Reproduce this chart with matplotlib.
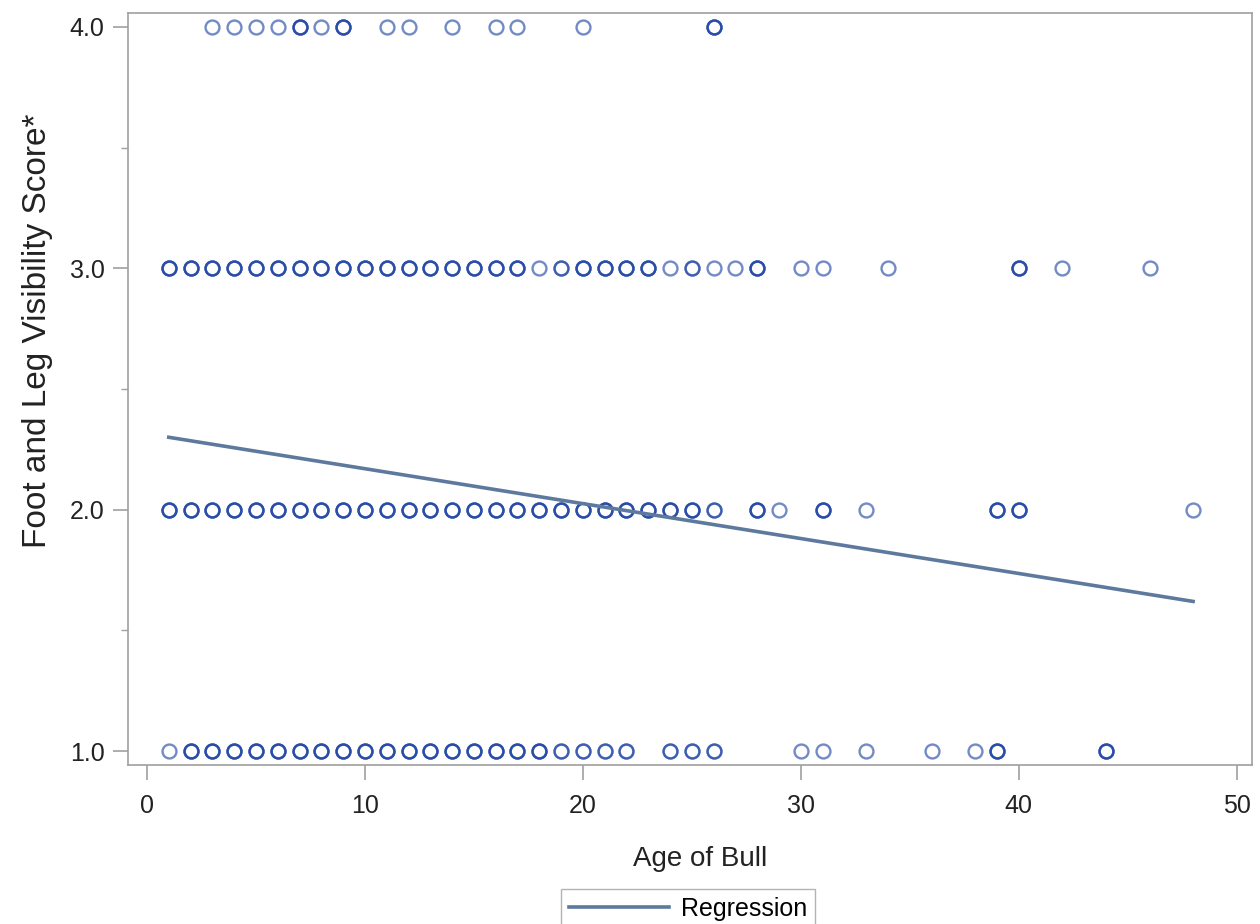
import numpy as np
import matplotlib
matplotlib.use("Agg")
import matplotlib.pyplot as plt
from matplotlib.ticker import MultipleLocator, FormatStrFormatter

plt.rcParams["font.family"] = ["Liberation Sans", "DejaVu Sans"]

# ages observed at each score, with how many bulls share that spot
score4_age = [3, 4, 5, 6, 7, 8, 9, 11, 12, 14, 16, 17, 20, 26]
score4_n = [1, 1, 1, 1, 3, 1, 3, 1, 1, 1, 1, 1, 1, 3]

score3_age = list(range(1, 29)) + [30, 31, 34, 40, 42, 46]
score3_n = [3] * 17 + [1, 2, 3, 3, 3, 3, 1, 2, 1, 1, 3] + [1, 1, 1, 3, 1, 1]

score2_age = list(range(1, 27)) + [28, 29, 31, 33, 39, 40, 48]
score2_n = [3] * 25 + [2] + [3, 1, 3, 1, 3, 3, 1]

score1_age = list(range(1, 23)) + [24, 25, 26, 30, 31, 33, 36, 38, 39, 44]
score1_n = [1] + [3] * 17 + [2, 2, 2, 2] + [2, 2, 2, 1, 1, 1, 1, 1, 3, 3]

scores = [4.0, 3.0, 2.0, 1.0]
ages = [score4_age, score3_age, score2_age, score1_age]
counts = [score4_n, score3_n, score2_n, score1_n]

reg_x = [1, 48]
reg_y = [2.30, 1.62]

fig = plt.figure(figsize=(12.6, 9.24), dpi=100)
ax = fig.add_axes([0.1016, 0.172, 0.892, 0.814])

for s, a, n in zip(scores, ages, counts):
    xs = np.repeat(a, n)
    ax.plot(xs, np.full(len(xs), s), "o", ms=10, mfc="none",
            mec=(0.11, 0.26, 0.64, 0.62), mew=1.7, zorder=2)

ax.plot(reg_x, reg_y, color="#5d7a9e", lw=2.6, zorder=3, label="Regression")

ax.set_xlim(-0.87, 50.7)
ax.set_ylim(0.942, 4.058)
ax.set_xticks([0, 10, 20, 30, 40, 50])
ax.set_yticks([1, 2, 3, 4])
ax.yaxis.set_major_formatter(FormatStrFormatter("%.1f"))
ax.yaxis.set_minor_locator(MultipleLocator(0.5))

for sp in ax.spines.values():
    sp.set_color("#a0a0a0")
    sp.set_linewidth(1.2)

ax.tick_params(axis="both", which="major", length=11, width=1.2,
               color="#a0a0a0", labelsize=18, labelcolor="#222222")
ax.tick_params(axis="x", which="major", pad=10)
ax.tick_params(axis="y", which="major", pad=6)
ax.tick_params(axis="y", which="minor", length=5, width=1.0, color="#a0a0a0")

ax.set_xlabel("Age of Bull", fontsize=20, color="#222222", labelpad=20)
ax.xaxis.label.set_x(0.509)
ax.set_ylabel("Foot and Leg Visibility Score*", fontsize=24,
              color="#222222", labelpad=12)
ax.yaxis.label.set_y(0.578)

fig.legend(loc="upper center", bbox_to_anchor=(0.546, 0.051), fontsize=18,
           frameon=True, fancybox=False, edgecolor="#a0a0a0",
           handlelength=4.0, borderpad=0.3, handletextpad=0.5)

fig.savefig("out.png", dpi=100)
